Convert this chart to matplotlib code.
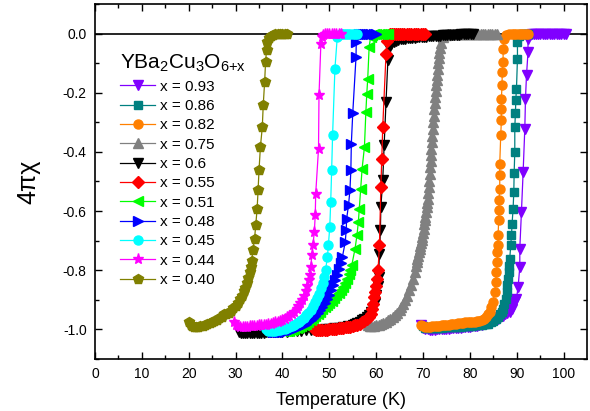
import numpy as np
import matplotlib.pyplot as plt

plt.rcParams['font.family'] = ['Liberation Sans', 'DejaVu Sans']
plt.rcParams['mathtext.default'] = 'regular'

# (T, 4*pi*chi)
x093 = np.array([
    (69.5, -0.985), (70.0, -0.995), (70.5, -0.999), (71.0, -1.0), (71.5, -1.001), (72.0, -1.001),
    (72.5, -1.001), (73.0, -1.0), (73.5, -1.0), (74.0, -0.999), (74.5, -0.999), (75.0, -0.998),
    (75.5, -0.998), (76.0, -0.997), (76.5, -0.997), (77.0, -0.996), (77.5, -0.995), (78.0, -0.995),
    (78.5, -0.994), (79.0, -0.993), (79.5, -0.992), (80.0, -0.991), (80.5, -0.99), (81.0, -0.989),
    (81.5, -0.988), (82.0, -0.986), (82.5, -0.984), (83.0, -0.982), (83.5, -0.98), (84.0, -0.978),
    (84.6, -0.975), (85.0, -0.972), (85.5, -0.968), (86.0, -0.964), (86.5, -0.96), (87.0, -0.955),
    (87.5, -0.95), (88.0, -0.946), (88.5, -0.941), (88.9, -0.93), (89.3, -0.915), (89.6, -0.905),
    (89.94, -0.896), (90.29, -0.857), (90.65, -0.789), (90.65, -0.727), (91.0, -0.603),
    (91.36, -0.468), (91.72, -0.321), (91.86, -0.22), (92.08, -0.141), (92.4, -0.062),
    (92.4, -0.017), (92.8, -0.005), (93.2, -0.001), (93.6, 0.0), (94.0, 0.0), (94.5, 0.0),
    (95.0, 0.0), (95.5, 0.0), (96.0, 0.0), (96.5, 0.0), (97.0, 0.0), (97.5, 0.0), (98.0, 0.0),
    (98.5, 0.0), (99.0, 0.0), (99.5, 0.0), (100.0, 0.0), (100.5, 0.0)])

x086 = np.array([
    (70.0, -0.99), (70.5, -0.995), (71.0, -0.996), (71.5, -0.996), (72.0, -0.996), (72.5, -0.996),
    (73.0, -0.995), (73.5, -0.995), (74.0, -0.995), (74.5, -0.994), (75.0, -0.994), (75.5, -0.993),
    (76.0, -0.993), (76.5, -0.992), (77.0, -0.992), (77.5, -0.991), (78.0, -0.991), (78.5, -0.99),
    (79.0, -0.99), (79.5, -0.989), (80.0, -0.989), (80.5, -0.988), (81.0, -0.987), (81.5, -0.986),
    (82.0, -0.985), (82.5, -0.984), (83.0, -0.983), (83.5, -0.982), (83.87, -0.981), (84.4, -0.977),
    (85.0, -0.972), (85.5, -0.966), (86.0, -0.958), (86.4, -0.95), (86.8, -0.94), (87.08, -0.93),
    (87.35, -0.915), (87.65, -0.896), (87.85, -0.875), (88.0, -0.851), (88.15, -0.83),
    (88.29, -0.806), (88.4, -0.785), (88.5, -0.761), (88.72, -0.716), (88.87, -0.682),
    (89.0, -0.643), (89.22, -0.592), (89.37, -0.535), (89.44, -0.473), (89.58, -0.4),
    (89.58, -0.316), (89.72, -0.27), (89.79, -0.225), (89.94, -0.186), (90.15, -0.085),
    (90.15, -0.028), (90.5, -0.008), (90.9, -0.002), (91.3, 0.0), (91.7, 0.0), (92.1, 0.0),
    (92.5, 0.0)])

x082 = np.array([
    (69.5, -0.985), (70.0, -0.99), (70.5, -0.991), (71.0, -0.991), (71.5, -0.991), (72.0, -0.99),
    (72.5, -0.99), (73.0, -0.989), (73.5, -0.988), (74.0, -0.987), (74.5, -0.986), (75.0, -0.985),
    (75.5, -0.984), (76.0, -0.983), (76.5, -0.982), (77.0, -0.981), (77.5, -0.98), (78.0, -0.979),
    (78.5, -0.978), (79.0, -0.977), (79.5, -0.977), (80.0, -0.976), (80.5, -0.976), (81.0, -0.975),
    (81.5, -0.973), (82.0, -0.971), (82.5, -0.968), (83.0, -0.965), (83.4, -0.958), (83.8, -0.948),
    (84.23, -0.941), (84.6, -0.925), (84.94, -0.907), (85.29, -0.874), (85.51, -0.84),
    (85.65, -0.806), (85.87, -0.772), (85.87, -0.738), (86.01, -0.716), (86.01, -0.682),
    (86.15, -0.631), (86.22, -0.598), (86.22, -0.564), (86.37, -0.524), (86.37, -0.479),
    (86.37, -0.44), (86.58, -0.344), (86.72, -0.293), (86.72, -0.254), (86.72, -0.22),
    (86.86, -0.175), (86.9, -0.13), (87.08, -0.096), (87.1, -0.051), (87.3, -0.017),
    (87.8, -0.006), (88.3, -0.002), (88.9, 0.0), (89.4, 0.0), (89.9, 0.0), (90.4, 0.0),
    (90.9, 0.0), (91.4, 0.0), (91.9, 0.0), (92.4, 0.0)])

x075 = np.array([
    (58.2, -0.985), (58.6, -0.99), (59.0, -0.99), (59.5, -0.989), (60.0, -0.987), (60.5, -0.985),
    (61.0, -0.982), (61.5, -0.979), (62.0, -0.975), (62.5, -0.97), (63.0, -0.965), (63.5, -0.958),
    (64.0, -0.951), (64.5, -0.944), (65.0, -0.935), (65.4, -0.926), (65.8, -0.915), (66.2, -0.902),
    (66.6, -0.886), (67.0, -0.868), (67.4, -0.85), (67.8, -0.83), (68.2, -0.805), (68.5, -0.785),
    (68.65, -0.773), (68.8, -0.762), (68.95, -0.751), (69.1, -0.74), (69.25, -0.729),
    (69.4, -0.718), (69.55, -0.707), (69.7, -0.697), (69.85, -0.687), (70.0, -0.676),
    (70.15, -0.66), (70.3, -0.645), (70.4, -0.632), (70.5, -0.62), (70.65, -0.602), (70.8, -0.585),
    (70.9, -0.572), (71.0, -0.56), (71.1, -0.54), (71.2, -0.52), (71.3, -0.497), (71.4, -0.475),
    (71.5, -0.452), (71.6, -0.43), (71.7, -0.41), (71.8, -0.39), (71.9, -0.367), (72.0, -0.345),
    (72.1, -0.322), (72.2, -0.3), (72.3, -0.277), (72.4, -0.255), (72.5, -0.235), (72.6, -0.215),
    (72.7, -0.195), (72.8, -0.175), (72.9, -0.157), (73.0, -0.14), (73.1, -0.12), (73.2, -0.1),
    (73.35, -0.082), (73.5, -0.065), (73.7, -0.047), (73.9, -0.03), (74.3, -0.012),
    (74.8, -0.004), (75.3, 0.0), (75.8, 0.0), (76.3, 0.0), (76.8, 0.0), (77.3, 0.0), (77.8, 0.0),
    (78.3, 0.0), (78.8, 0.0), (79.3, 0.0), (79.8, 0.0), (80.3, 0.0), (80.8, 0.0), (81.3, 0.0),
    (81.8, 0.0), (82.3, 0.0), (82.8, 0.0), (83.3, 0.0), (83.8, 0.0), (84.3, 0.0), (84.8, 0.0),
    (85.3, 0.0), (85.8, 0.0)])

x060 = np.array([
    (30.8, -1.008), (31.2, -1.012), (31.6, -1.013), (32.0, -1.013), (32.5, -1.013), (33.0, -1.013),
    (33.5, -1.013), (34.0, -1.013), (34.5, -1.012), (35.0, -1.012), (35.5, -1.012), (36.0, -1.012),
    (36.5, -1.011), (37.0, -1.011), (37.5, -1.011), (38.0, -1.01), (38.5, -1.01), (39.0, -1.01),
    (39.5, -1.009), (40.0, -1.009), (41.0, -1.008), (42.0, -1.007), (43.0, -1.006), (44.0, -1.005),
    (45.0, -1.004), (46.0, -1.003), (47.0, -1.002), (48.0, -1.001), (49.0, -1.0), (50.0, -0.999),
    (51.0, -0.997), (52.0, -0.995), (53.0, -0.993), (54.0, -0.99), (55.0, -0.986), (55.5, -0.983),
    (56.0, -0.979), (56.5, -0.975), (57.0, -0.97), (57.5, -0.965), (58.0, -0.959), (58.5, -0.952),
    (59.0, -0.942), (59.4, -0.928), (59.7, -0.91), (60.0, -0.885), (60.3, -0.855), (60.5, -0.823),
    (60.7, -0.744), (60.9, -0.665), (61.0, -0.586), (61.4, -0.496), (61.7, -0.378), (62.1, -0.231),
    (62.5, -0.09), (62.8, -0.05), (63.2, -0.035), (63.7, -0.028), (64.2, -0.024), (64.7, -0.021),
    (65.2, -0.019), (65.7, -0.018), (66.2, -0.017), (66.7, -0.016), (67.2, -0.015), (67.7, -0.014),
    (68.2, -0.013), (68.7, -0.012), (69.2, -0.012), (69.7, -0.011), (70.2, -0.01), (70.7, -0.01),
    (71.2, -0.009), (71.7, -0.009), (72.2, -0.008), (72.7, -0.008), (73.2, -0.007), (73.7, -0.007),
    (74.2, -0.006), (74.7, -0.006), (75.2, -0.005), (75.7, -0.005), (76.2, -0.004), (76.7, -0.004),
    (77.2, -0.003), (77.7, -0.003), (78.2, -0.002), (78.7, -0.002), (79.2, -0.001), (79.7, -0.001),
    (80.2, 0.0), (80.7, 0.0)])

x055 = np.array([
    (46.8, -1.0), (47.2, -1.002), (47.6, -1.003), (48.0, -1.003), (48.5, -1.003), (49.0, -1.002),
    (49.5, -1.001), (50.0, -1.0), (50.5, -0.999), (51.0, -0.999), (51.5, -0.998), (52.0, -0.997),
    (52.5, -0.996), (53.0, -0.995), (53.5, -0.994), (54.0, -0.993), (54.5, -0.991), (55.0, -0.989),
    (55.5, -0.987), (56.0, -0.984), (56.5, -0.981), (57.0, -0.977), (57.5, -0.973), (58.0, -0.967),
    (58.4, -0.96), (58.8, -0.948), (59.1, -0.93), (59.3, -0.915), (59.6, -0.89), (59.8, -0.875),
    (60.0, -0.855), (60.2, -0.83), (60.4, -0.8), (60.7, -0.716), (61.0, -0.518), (61.2, -0.423),
    (61.4, -0.316), (62.1, -0.07), (62.4, -0.025), (62.7, -0.008), (63.0, -0.002), (63.4, 0.0),
    (63.8, 0.0), (64.2, 0.0), (64.6, 0.0), (65.0, 0.0), (65.5, 0.0), (66.0, 0.0), (66.5, 0.0),
    (67.0, 0.0), (67.5, 0.0), (68.0, 0.0), (68.5, 0.0), (69.0, 0.0), (69.5, 0.0), (70.0, 0.0),
    (70.5, 0.0)])

x051 = np.array([
    (40.0, -1.005), (40.5, -1.006), (41.0, -1.006), (41.5, -1.005), (42.0, -1.003), (42.5, -1.0),
    (43.0, -0.997), (43.5, -0.994), (44.0, -0.99), (44.5, -0.986), (45.0, -0.981), (45.5, -0.975),
    (46.0, -0.968), (46.5, -0.961), (47.0, -0.954), (47.5, -0.947), (48.0, -0.94), (48.5, -0.933),
    (49.0, -0.926), (49.5, -0.919), (50.0, -0.911), (50.5, -0.903), (51.0, -0.894), (51.5, -0.885),
    (52.0, -0.876), (52.5, -0.866), (53.0, -0.856), (53.4, -0.845), (53.8, -0.83), (54.2, -0.812),
    (54.5, -0.798), (54.8, -0.783), (55.5, -0.727), (55.9, -0.682), (56.2, -0.637), (56.4, -0.592),
    (56.7, -0.524), (57.0, -0.457), (57.5, -0.383), (57.8, -0.265), (58.0, -0.203), (58.2, -0.152),
    (58.5, -0.045), (58.8, -0.012), (59.1, -0.003), (59.5, 0.0), (60.0, 0.0), (60.5, 0.0),
    (61.0, 0.0), (61.5, 0.0), (62.0, 0.0), (62.5, 0.0)])

x048 = np.array([
    (38.0, -1.01), (38.5, -1.01), (39.0, -1.01), (39.5, -1.01), (40.0, -1.009), (40.5, -1.008),
    (41.0, -1.006), (41.5, -1.004), (42.0, -1.002), (42.5, -1.0), (43.0, -0.997), (43.5, -0.994),
    (44.0, -0.99), (44.5, -0.986), (45.0, -0.981), (45.5, -0.976), (46.0, -0.97), (46.5, -0.963),
    (47.0, -0.955), (47.5, -0.946), (48.0, -0.936), (48.5, -0.925), (49.0, -0.912), (49.5, -0.898),
    (50.0, -0.883), (50.4, -0.868), (50.8, -0.852), (51.2, -0.835), (51.6, -0.815), (52.0, -0.795),
    (52.4, -0.775), (52.8, -0.755), (53.4, -0.705), (53.6, -0.665), (53.7, -0.626), (54.1, -0.58),
    (54.4, -0.53), (54.6, -0.462), (54.7, -0.372), (55.0, -0.27), (55.7, -0.079), (55.75, -0.028),
    (56.0, -0.008), (56.4, -0.002), (56.8, 0.0), (57.2, 0.0), (57.6, 0.0), (58.0, 0.0),
    (58.5, 0.0), (59.0, 0.0), (59.5, 0.0), (60.0, 0.0)])

x045 = np.array([
    (36.5, -1.0), (37.0, -1.005), (37.5, -1.006), (38.0, -1.006), (38.5, -1.005), (39.0, -1.004),
    (39.5, -1.002), (40.0, -1.0), (40.5, -0.998), (41.0, -0.995), (41.5, -0.992), (42.0, -0.988),
    (42.5, -0.984), (43.0, -0.979), (43.5, -0.974), (44.0, -0.968), (44.5, -0.961), (45.0, -0.953),
    (45.5, -0.944), (46.0, -0.934), (46.5, -0.922), (47.0, -0.908), (47.4, -0.895), (47.8, -0.88),
    (48.2, -0.862), (48.6, -0.842), (48.9, -0.822), (49.2, -0.8), (49.6, -0.755), (49.8, -0.716),
    (50.1, -0.654), (50.3, -0.569), (50.5, -0.462), (50.7, -0.344), (51.2, -0.118), (51.7, -0.011),
    (52.0, -0.004), (52.4, -0.001), (52.8, 0.0), (53.2, 0.0), (53.6, 0.0), (54.0, 0.0),
    (54.5, 0.0), (55.0, 0.0), (55.5, 0.0), (56.0, 0.0)])

x044 = np.array([
    (29.7, -0.975), (30.0, -0.985), (30.5, -0.99), (31.0, -0.992), (31.5, -0.992), (32.0, -0.992),
    (32.5, -0.991), (33.0, -0.99), (33.5, -0.99), (34.0, -0.989), (34.5, -0.988), (35.0, -0.987),
    (35.5, -0.986), (36.0, -0.985), (36.5, -0.984), (37.0, -0.982), (37.5, -0.981), (38.0, -0.979),
    (38.5, -0.977), (39.0, -0.975), (39.5, -0.972), (40.0, -0.969), (40.5, -0.965), (41.0, -0.96),
    (41.5, -0.955), (42.0, -0.948), (42.5, -0.94), (43.0, -0.931), (43.4, -0.922), (43.8, -0.912),
    (44.2, -0.9), (44.6, -0.886), (45.0, -0.87), (45.3, -0.855), (45.6, -0.835), (45.8, -0.815),
    (46.0, -0.79), (46.3, -0.75), (46.5, -0.716), (46.8, -0.671), (47.0, -0.614), (47.1, -0.541),
    (47.7, -0.389), (47.8, -0.209), (48.2, -0.034), (48.4, -0.012), (48.7, -0.004), (49.0, -0.001),
    (49.5, 0.0), (50.0, 0.0), (50.5, 0.0), (51.0, 0.0), (51.5, 0.0), (52.0, 0.0), (52.5, 0.0)])

x040 = np.array([
    (20.0, -0.975), (20.4, -0.985), (20.8, -0.99), (21.2, -0.992), (21.6, -0.992), (22.0, -0.991),
    (22.5, -0.99), (23.0, -0.988), (23.5, -0.986), (24.0, -0.983), (24.5, -0.98), (25.0, -0.977),
    (25.5, -0.973), (26.0, -0.968), (26.5, -0.963), (27.0, -0.957), (27.5, -0.95), (28.0, -0.95),
    (28.5, -0.944), (29.0, -0.937), (29.5, -0.929), (30.0, -0.92), (30.5, -0.91), (31.0, -0.898),
    (31.4, -0.886), (31.8, -0.872), (32.1, -0.86), (32.4, -0.845), (32.7, -0.828), (33.0, -0.808),
    (33.2, -0.79), (33.4, -0.77), (33.7, -0.733), (34.05, -0.693), (34.3, -0.648), (34.6, -0.592),
    (34.8, -0.53), (35.0, -0.462), (35.3, -0.383), (35.7, -0.316), (35.9, -0.242), (36.2, -0.163),
    (36.4, -0.096), (36.6, -0.055), (36.8, -0.028), (37.1, -0.014), (37.5, -0.007), (38.0, -0.003),
    (38.5, -0.001), (39.0, 0.0), (39.5, 0.0), (40.0, 0.0), (40.5, 0.0), (41.0, 0.0)])

labels = ['x = 0.93', 'x = 0.86', 'x = 0.82', 'x = 0.75', 'x = 0.6', 'x = 0.55',
          'x = 0.51', 'x = 0.48', 'x = 0.45', 'x = 0.44', 'x = 0.40']
series = [x093, x086, x082, x075, x060, x055, x051, x048, x045, x044, x040]
colors = ['#8000ff', '#008080', '#ff8000', '#808080', '#000000', '#ff0000',
          '#00ff00', '#0000ff', '#00ffff', '#ff00ff', '#808000']
markers = ['v', 's', 'o', '^', 'v', 'D', '<', '>', 'o', '*', 'p']
msizes = [7, 6, 6.5, 7, 7, 6, 7, 7, 6.5, 8, 7]

fig = plt.figure(figsize=(5.9, 4.11), dpi=100)
ax = fig.add_axes([0.161, 0.127, 0.834, 0.863])

ax.axhline(0, color='black', lw=1.2, zorder=1)

for d, lab, c, m, ms in zip(series, labels, colors, markers, msizes):
    ax.plot(d[:, 0], d[:, 1], color=c, marker=m, ms=ms, mec=c, mfc=c, lw=0.9, label=lab)

ax.set_xlim(0, 105)
ax.set_ylim(-1.1, 0.1)
ax.set_xticks(np.arange(0, 101, 10))
ax.set_xticks(np.arange(0, 105, 5), minor=True)
ax.set_yticks([-1.0, -0.8, -0.6, -0.4, -0.2, 0.0])
ax.set_yticks(np.round(np.arange(-1.1, 0.1, 0.1), 1), minor=True)
ax.set_yticklabels(['-1.0', '-0.8', '-0.6', '-0.4', '-0.2', '0.0'])
ax.tick_params(which='both', direction='in', top=True, right=True, labelsize=10, pad=6)
ax.tick_params(which='major', length=5, width=1)
ax.tick_params(which='minor', length=3, width=1)
for s in ax.spines.values():
    s.set_linewidth(1.2)

ax.set_xlabel('Temperature (K)', fontsize=13, labelpad=8)
ax.set_ylabel('4πχ', fontsize=18, labelpad=16)

leg = ax.legend(title='YBa$_2$Cu$_3$O$_{6{+}x}$', title_fontsize=15, fontsize=11,
                loc='upper left', bbox_to_anchor=(0.051, 0.862), frameon=False,
                borderpad=0, borderaxespad=0, handlelength=2.3, handletextpad=0.33,
                labelspacing=0.35, alignment='left')

fig.savefig('out.png', dpi=100)
